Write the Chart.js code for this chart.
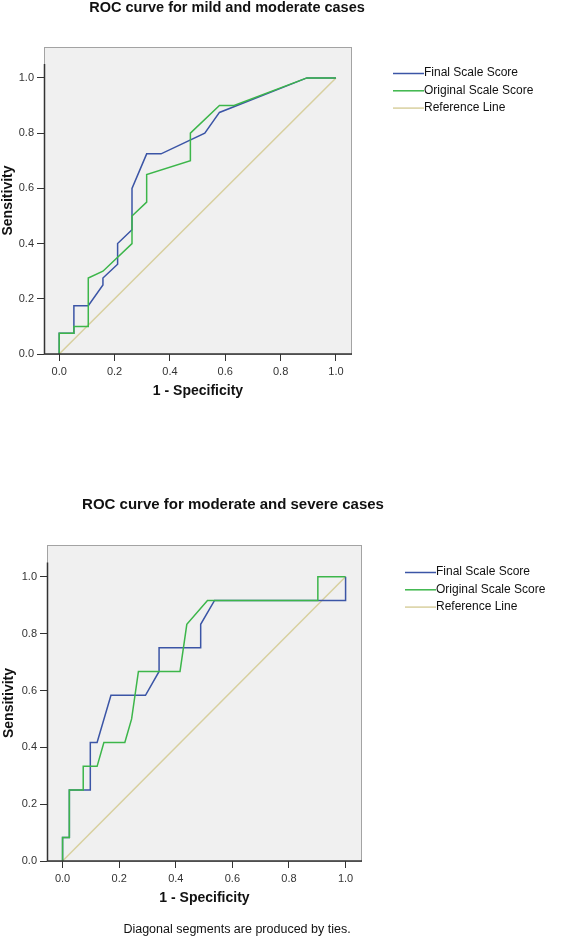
<!DOCTYPE html>
<html>
<head>
<meta charset="utf-8">
<script src="https://cdn.jsdelivr.net/npm/chart.js@4.4.0/dist/chart.umd.min.js"></script>
<style>
  html, body { margin: 0; padding: 0; background: #fff; }
  body { width: 563px; height: 940px; position: relative; overflow: hidden; }
  .box { position: absolute; left: 0; width: 563px; }
  #boxA { top: 0; height: 410px; }
  #boxB { top: 480px; height: 460px; }
</style>
</head>
<body>
<div class="box" id="boxA"><canvas id="rocMild" width="563" height="410"></canvas></div>
<div class="box" id="boxB"><canvas id="rocSevere" width="563" height="460"></canvas></div>
<script>
// series names and tick labels
const seriesNames = ['Final Scale Score', 'Original Scale Score', 'Reference Line'];
const axisTicks = [0, 0.2, 0.4, 0.6, 0.8, 1.0];

// ROC: mild vs moderate
const mildFinalX = [0, 0, 0.053, 0.053, 0.105, 0.158, 0.158, 0.211, 0.211, 0.263, 0.263, 0.316, 0.368, 0.526, 0.579, 0.895, 1];
const mildFinalY = [0, 0.075, 0.075, 0.175, 0.175, 0.25, 0.275, 0.325, 0.4, 0.45, 0.6, 0.725, 0.725, 0.8, 0.875, 1, 1];
const mildOrigX = [0, 0, 0.053, 0.053, 0.105, 0.105, 0.158, 0.263, 0.263, 0.316, 0.316, 0.474, 0.474, 0.579, 0.632, 0.895, 1];
const mildOrigY = [0, 0.075, 0.075, 0.1, 0.1, 0.275, 0.3, 0.4, 0.5, 0.55, 0.65, 0.7, 0.8, 0.9, 0.9, 1, 1];

// ROC: moderate vs severe
const sevFinalX = [0, 0, 0.024, 0.024, 0.098, 0.098, 0.122, 0.171, 0.293, 0.341, 0.341, 0.488, 0.488, 0.537, 1, 1];
const sevFinalY = [0, 0.083, 0.083, 0.25, 0.25, 0.417, 0.417, 0.583, 0.583, 0.667, 0.75, 0.75, 0.833, 0.917, 0.917, 1];
const sevOrigX = [0, 0, 0.024, 0.024, 0.073, 0.073, 0.122, 0.146, 0.22, 0.244, 0.268, 0.415, 0.439, 0.512, 0.902, 0.902, 1];
const sevOrigY = [0, 0.083, 0.083, 0.25, 0.25, 0.333, 0.333, 0.417, 0.417, 0.5, 0.667, 0.667, 0.833, 0.917, 0.917, 1, 1];

// diagonal
const refX = [0, 1];
const refY = [0, 1];

const FONT = "'Liberation Sans', Arial, sans-serif";
Chart.defaults.font.family = FONT;

function pts(xs, ys) {
  return xs.map((x, i) => ({ x: x, y: ys[i] }));
}

// frame, axis lines, title, legend and footnote
const rocDecor = {
  id: 'rocDecor',
  beforeDraw(chart) {
    const { ctx, chartArea: a } = chart;
    ctx.save();
    ctx.fillStyle = '#f0f0f0';
    ctx.fillRect(a.left, a.top, a.right - a.left, a.bottom - a.top);
    ctx.strokeStyle = '#a3a3a3';
    ctx.lineWidth = 1;
    ctx.strokeRect(a.left + 0.5, a.top + 0.5, a.right - a.left - 1, a.bottom - a.top);
    ctx.restore();
  },
  afterDatasetsDraw(chart) {
    const { ctx, chartArea: a, scales } = chart;
    ctx.save();
    ctx.strokeStyle = '#333';
    ctx.lineWidth = 1.5;
    ctx.beginPath();
    ctx.moveTo(a.left, a.bottom);
    ctx.lineTo(a.right, a.bottom);
    ctx.moveTo(a.left + 0.5, a.bottom);
    ctx.lineTo(a.left + 0.5, scales.y.getPixelForValue(1.05));
    ctx.stroke();
    ctx.restore();
  },
  afterDraw(chart, args, opts) {
    const ctx = chart.ctx;
    ctx.save();
    ctx.fillStyle = '#111';
    ctx.textBaseline = 'middle';
    ctx.textAlign = 'center';
    ctx.font = 'bold ' + opts.titleSize + 'px ' + FONT;
    ctx.fillText(opts.title, opts.titleX, opts.titleY);

    ctx.textAlign = 'left';
    ctx.font = '12px ' + FONT;
    chart.data.datasets.forEach((ds, i) => {
      const y = opts.legendY + i * 17.3;
      ctx.strokeStyle = ds.borderColor;
      ctx.lineWidth = 1.5;
      ctx.beginPath();
      ctx.moveTo(opts.legendX, y + 0.5);
      ctx.lineTo(opts.legendX + 31, y + 0.5);
      ctx.stroke();
      ctx.fillStyle = '#111';
      ctx.fillText(ds.label, opts.legendX + 31, y);
    });

    if (opts.note) {
      ctx.textAlign = 'center';
      ctx.font = '12.5px ' + FONT;
      ctx.fillText(opts.note, opts.noteX, opts.noteY);
    }
    ctx.restore();
  }
};

function makeRoc(id, finalPts, origPts, decor, pad, yTitlePad) {
  return new Chart(document.getElementById(id), {
    type: 'line',
    data: {
      datasets: [
        { label: seriesNames[0], data: finalPts, borderColor: '#3b55a6', order: 1 },
        { label: seriesNames[1], data: origPts, borderColor: '#3cb64a', order: 0 },
        { label: seriesNames[2], data: pts(refX, refY), borderColor: '#d8d09f', order: 2 }
      ]
    },
    options: {
      responsive: false,
      animation: false,
      events: [],
      elements: {
        line: { borderWidth: 1.5, tension: 0, fill: false },
        point: { radius: 0 }
      },
      layout: { padding: pad },
      plugins: {
        legend: { display: false },
        tooltip: { enabled: false },
        rocDecor: decor
      },
      scales: {
        x: {
          type: 'linear',
          min: -0.055,
          max: 1.058,
          border: { display: false },
          grid: { drawOnChartArea: false, drawTicks: true, tickLength: 7, color: '#333' },
          ticks: { font: { size: 11 }, color: '#333', padding: 4, callback: v => v.toFixed(1) },
          afterBuildTicks: s => { s.ticks = axisTicks.map(v => ({ value: v })); },
          afterFit: s => { s.height = 56; },
          title: {
            display: true, text: '1 - Specificity', color: '#111',
            font: { size: 14, weight: 'bold' }, padding: { top: 0, bottom: 10.6 }
          }
        },
        y: {
          type: 'linear',
          min: 0,
          max: 1.112,
          border: { display: false },
          grid: { drawOnChartArea: false, drawTicks: true, tickLength: 7, color: '#333' },
          ticks: { font: { size: 11 }, color: '#333', padding: 3, callback: v => v.toFixed(1) },
          afterBuildTicks: s => { s.ticks = axisTicks.map(v => ({ value: v })); },
          afterFit: s => { s.width = pad.yWidth; },
          title: {
            display: true, text: 'Sensitivity', color: '#111',
            font: { size: 14, weight: 'bold' }, padding: { top: yTitlePad, bottom: 0 }
          }
        }
      }
    },
    plugins: [rocDecor]
  });
}

makeRoc('rocMild', pts(mildFinalX, mildFinalY), pts(mildOrigX, mildOrigY), {
  title: 'ROC curve for mild and moderate cases', titleSize: 14.5, titleX: 227, titleY: 8,
  legendX: 393, legendY: 73
}, { top: 47, right: 211, bottom: 0, left: 0, yWidth: 44 }, 0);

makeRoc('rocSevere', pts(sevFinalX, sevFinalY), pts(sevOrigX, sevOrigY), {
  title: 'ROC curve for moderate and severe cases', titleSize: 15, titleX: 233, titleY: 25,
  legendX: 405, legendY: 92,
  note: 'Diagonal segments are produced by ties.', noteX: 237, noteY: 450
}, { top: 65, right: 201, bottom: 23, left: 0, yWidth: 47 }, 1);
</script>
</body>
</html>
